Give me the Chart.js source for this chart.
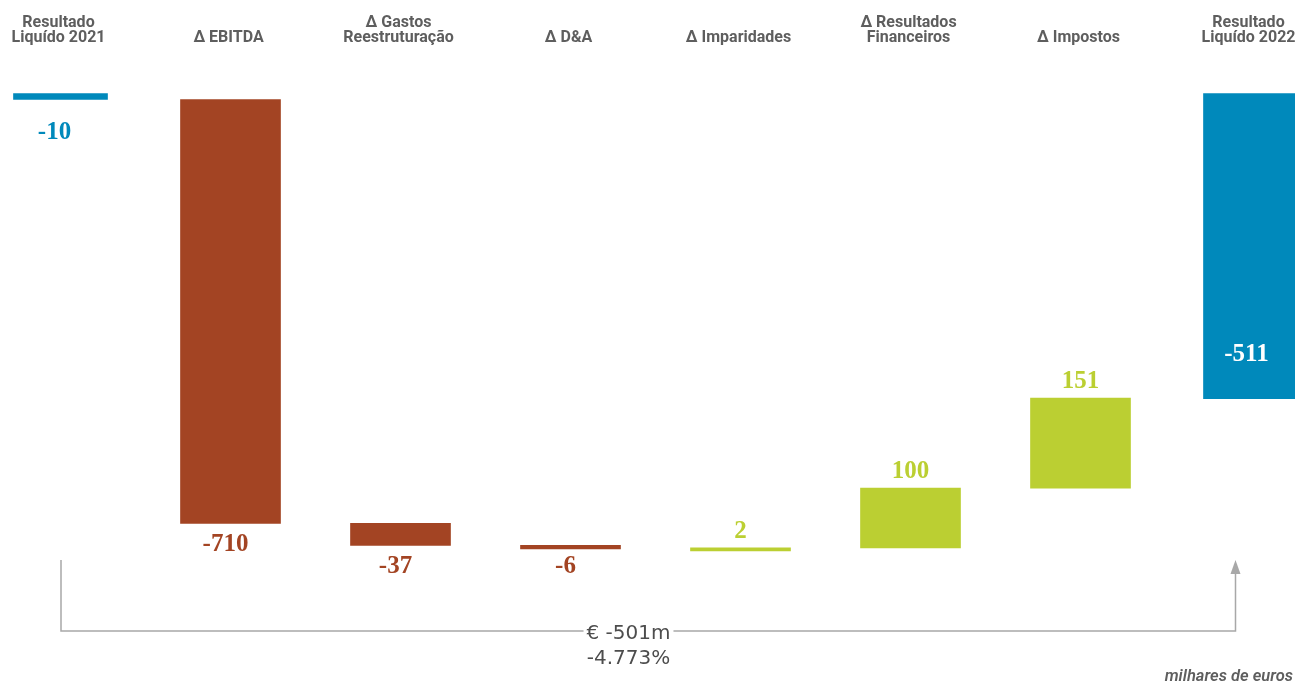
<!DOCTYPE html>
<html>
<head>
<meta charset="utf-8">
<script src="https://cdn.jsdelivr.net/npm/chart.js@4.4.0/dist/chart.umd.min.js"></script>
<style>
  html, body { margin: 0; padding: 0; background: #fff; }
  #wrap { width: 1295px; height: 685px; position: relative; }
</style>
</head>
<body>
<div id="wrap"><canvas id="myGraph"></canvas></div>
<script>
// categories along the waterfall
var categories = [
  ["Resultado", "Liquído 2021"],
  ["∆ EBITDA"],
  ["∆ Gastos", "Reestruturação"],
  ["∆ D&A"],
  ["∆ Imparidades"],
  ["∆ Resultados", "Financeiros"],
  ["∆ Impostos"],
  ["Resultado", "Liquído 2022"]
];
var startValue = -10;
var endValue = -511;
var changes = [-710, -37, -6, 2, 100, 151];
var totalText = "€ -501m";
var pctText = "-4.773%";
var unitText = "milhares de euros";

var BLUE = "#0089bb";
var RED = "#a34423";
var GREEN = "#bbcf32";
var GREY = "#5e5e5e";

// build floating bars from the cumulative sum
var totalBars = [
  { x: 0, y: [0, startValue], v: startValue },
  { x: 7, y: [0, endValue], v: endValue }
];
var changeBars = [];
var run = startValue;
for (var i = 0; i < changes.length; i++) {
  changeBars.push({ x: i + 1, y: [run, run + changes[i]], v: changes[i] });
  run += changes[i];
}

var labelPlugin = {
  id: "waterfallLabels",
  afterDatasetsDraw: function(chart) {
    var ctx = chart.ctx;
    var xs = chart.scales.x;
    var ys = chart.scales.y;
    ctx.save();

    // category labels on top
    ctx.fillStyle = GREY;
    ctx.font = "bold 16px Roboto";
    ctx.textAlign = "center";
    ctx.textBaseline = "alphabetic";
    categories.forEach(function(lines, i) {
      var cx = xs.getPixelForValue(i) - 2;
      if (lines.length == 2) {
        ctx.fillText(lines[0], cx, 27);
        ctx.fillText(lines[1], cx, 42);
      } else {
        ctx.fillText(lines[0], cx, 42);
      }
    });

    // value labels
    ctx.font = "bold 25px 'Liberation Serif'";
    changeBars.forEach(function(b) {
      var cx = xs.getPixelForValue(b.x);
      var lo = Math.min(b.y[0], b.y[1]);
      var hi = Math.max(b.y[0], b.y[1]);
      if (b.v < 0) {
        ctx.fillStyle = RED;
        ctx.fillText(String(b.v), cx - 5, Math.min(ys.getPixelForValue(lo) + 28, 573));
      } else {
        ctx.fillStyle = GREEN;
        ctx.fillText(String(b.v), cx, ys.getPixelForValue(hi) - 10);
      }
    });
    ctx.fillStyle = BLUE;
    ctx.fillText(String(startValue), xs.getPixelForValue(0) - 6, ys.getPixelForValue(startValue) + 40);
    ctx.fillStyle = "#ffffff";
    ctx.fillText(String(endValue), xs.getPixelForValue(7) - 4, ys.getPixelForValue(endValue) - 38);

    // bracket with arrow
    var x0 = xs.getPixelForValue(0) + 0.5;
    var x1 = xs.getPixelForValue(7) - 15;
    var yb = 631;
    var mid = xs.getPixelForValue(3.5) - 27;
    ctx.strokeStyle = "#a8a8a8";
    ctx.lineWidth = 1.5;
    ctx.beginPath();
    ctx.moveTo(x0, 560);
    ctx.lineTo(x0, yb);
    ctx.lineTo(x1, yb);
    ctx.lineTo(x1, 572);
    ctx.stroke();
    ctx.fillStyle = "#a8a8a8";
    ctx.beginPath();
    ctx.moveTo(x1, 560);
    ctx.lineTo(x1 - 5, 574);
    ctx.lineTo(x1 + 5, 574);
    ctx.closePath();
    ctx.fill();

    ctx.font = "20px 'DejaVu Sans'";
    var w = ctx.measureText(totalText).width;
    ctx.fillStyle = "#ffffff";
    ctx.fillRect(mid - w / 2 - 3, yb - 4, w + 6, 8);
    ctx.fillStyle = "#4d4d4d";
    ctx.fillText(totalText, mid, 639);
    ctx.fillText(pctText, mid, 664);

    ctx.font = "italic 600 16.5px Roboto";
    ctx.textAlign = "right";
    ctx.fillStyle = GREY;
    ctx.fillText(unitText, 1293, 681);
    ctx.restore();
  }
};

var graph = document.getElementById("myGraph").getContext("2d");

new Chart(graph, {
  type: "bar",
  data: {
    datasets: [
      {
        label: "Totais",
        data: totalBars,
        backgroundColor: BLUE,
        barThickness: 94,
        grouped: false
      },
      {
        label: "Variações",
        data: changeBars,
        backgroundColor: changeBars.map(b => b.v < 0 ? RED : GREEN),
        barThickness: 100,
        minBarLength: 3,
        grouped: false
      }
    ]
  },
  options: {
    responsive: true,
    maintainAspectRatio: false,
    animation: false,
    layout: { padding: 0 },
    plugins: {
      legend: { display: false },
      tooltip: { enabled: false }
    },
    scales: {
      x: {
        type: "linear",
        display: false,
        offset: false,
        min: -60.5 / 170,
        max: (1295 - 60.5) / 170
      },
      y: {
        display: false,
        min: -(685 - 93.5) / 0.597,
        max: 93.5 / 0.597
      }
    }
  },
  plugins: [labelPlugin]
});
</script>
</body>
</html>
